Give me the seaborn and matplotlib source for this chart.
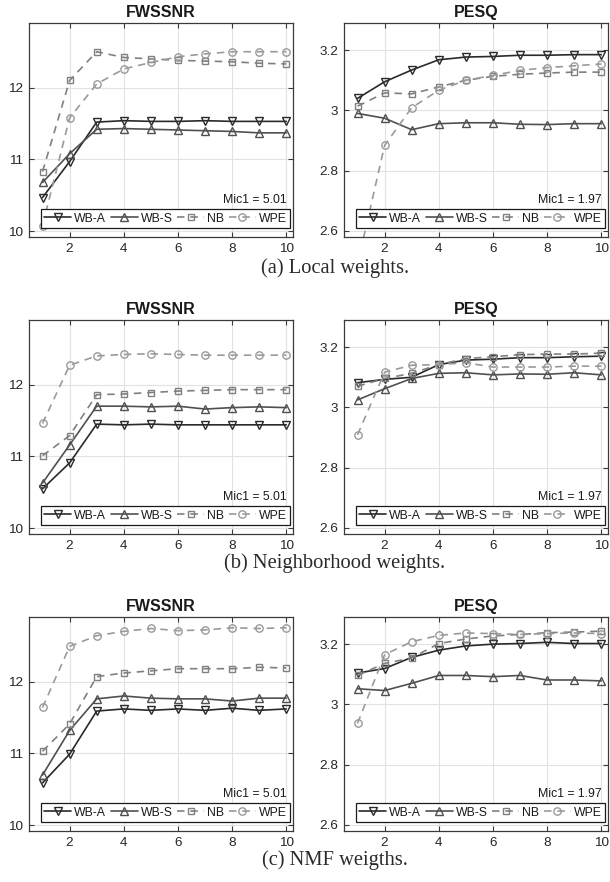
import numpy as np
import pandas as pd
import matplotlib
matplotlib.use("Agg")
import matplotlib.pyplot as plt
import seaborn as sns

# ---------------- data ----------------
x_vals = [1, 2, 3, 4, 5, 6, 7, 8, 9, 10]
methods = ["WB-A", "WB-S", "NB", "WPE"]
captions = ["(a) Local weights.", "(b) Neighborhood weights.", "(c) NMF weigths."]
metric_titles = ["FWSSNR", "PESQ"]
mic1_labels = ["Mic1 = 5.01", "Mic1 = 1.97"]
fw_ticks = [10, 11, 12]
fw_ticklabels = ["10", "11", "12"]
pq_ticks = [2.6, 2.8, 3.0, 3.2]
pq_ticklabels = ["2.6", "2.8", "3", "3.2"]
x_ticks = [2, 4, 6, 8, 10]

# (a) Local weights
fw_a_wba = [10.47, 10.97, 11.52, 11.54, 11.53, 11.53, 11.54, 11.53, 11.53, 11.53]
fw_a_wbs = [10.68, 11.08, 11.42, 11.43, 11.42, 11.41, 11.40, 11.39, 11.37, 11.37]
fw_a_nb = [10.83, 12.10, 12.50, 12.42, 12.40, 12.38, 12.37, 12.36, 12.34, 12.33]
fw_a_wpe = [10.08, 11.58, 12.05, 12.26, 12.35, 12.43, 12.47, 12.50, 12.50, 12.50]
pq_a_wba = [3.040, 3.095, 3.134, 3.168, 3.177, 3.179, 3.183, 3.183, 3.185, 3.185]
pq_a_wbs = [2.990, 2.974, 2.936, 2.956, 2.959, 2.959, 2.954, 2.953, 2.956, 2.956]
pq_a_nb = [3.014, 3.058, 3.055, 3.078, 3.100, 3.113, 3.120, 3.124, 3.127, 3.127]
pq_a_wpe = [2.490, 2.884, 3.009, 3.067, 3.100, 3.116, 3.133, 3.142, 3.148, 3.154]

# (b) Neighborhood weights
fw_b_wba = [10.55, 10.91, 11.45, 11.44, 11.45, 11.44, 11.44, 11.44, 11.44, 11.44]
fw_b_wbs = [10.63, 11.16, 11.70, 11.70, 11.69, 11.70, 11.66, 11.68, 11.69, 11.68]
fw_b_nb = [11.01, 11.29, 11.86, 11.87, 11.89, 11.91, 11.92, 11.93, 11.93, 11.93]
fw_b_wpe = [11.46, 12.27, 12.40, 12.42, 12.43, 12.42, 12.41, 12.41, 12.41, 12.41]
pq_b_wba = [3.082, 3.093, 3.100, 3.142, 3.157, 3.160, 3.165, 3.165, 3.168, 3.170]
pq_b_wbs = [3.025, 3.062, 3.096, 3.113, 3.115, 3.108, 3.111, 3.110, 3.115, 3.108]
pq_b_nb = [3.070, 3.096, 3.113, 3.142, 3.162, 3.168, 3.175, 3.177, 3.177, 3.180]
pq_b_wpe = [2.909, 3.117, 3.140, 3.142, 3.148, 3.134, 3.134, 3.134, 3.137, 3.137]

# (c) NMF weights
fw_c_wba = [10.59, 10.99, 11.59, 11.62, 11.60, 11.62, 11.60, 11.63, 11.60, 11.62]
fw_c_wbs = [10.70, 11.32, 11.76, 11.80, 11.77, 11.76, 11.76, 11.73, 11.77, 11.77]
fw_c_nb = [11.03, 11.41, 12.07, 12.12, 12.15, 12.18, 12.18, 12.18, 12.20, 12.19]
fw_c_wpe = [11.64, 12.49, 12.64, 12.70, 12.74, 12.71, 12.72, 12.75, 12.74, 12.75]
pq_c_wba = [3.104, 3.119, 3.156, 3.180, 3.194, 3.200, 3.202, 3.206, 3.202, 3.202]
pq_c_wbs = [3.052, 3.046, 3.070, 3.096, 3.096, 3.092, 3.096, 3.081, 3.081, 3.078]
pq_c_nb = [3.096, 3.136, 3.154, 3.202, 3.217, 3.227, 3.232, 3.238, 3.240, 3.243]
pq_c_wpe = [2.937, 3.165, 3.208, 3.229, 3.237, 3.235, 3.232, 3.235, 3.237, 3.235]

panels = [
    [(fw_a_wba, fw_a_wbs, fw_a_nb, fw_a_wpe), (pq_a_wba, pq_a_wbs, pq_a_nb, pq_a_wpe)],
    [(fw_b_wba, fw_b_wbs, fw_b_nb, fw_b_wpe), (pq_b_wba, pq_b_wbs, pq_b_nb, pq_b_wpe)],
    [(fw_c_wba, fw_c_wbs, fw_c_nb, fw_c_wpe), (pq_c_wba, pq_c_wbs, pq_c_nb, pq_c_wpe)],
]

# ---------------- style ----------------
sns.set_style("ticks")
plt.rcParams["font.family"] = ["Liberation Sans", "DejaVu Sans"]

styles = {
    "WB-A": dict(color="#2a2a2a", marker="v", ms=6.2, ls="-"),
    "WB-S": dict(color="#505050", marker="^", ms=6.2, ls="-"),
    "NB": dict(color="#808080", marker="s", ms=4.8, ls=(0, (4.5, 3.5))),
    "WPE": dict(color="#9a9a9a", marker="o", ms=5.3, ls=(0, (4.5, 3.5))),
}

W, H = 610, 882
fig = plt.figure(figsize=(W / 100, H / 100), dpi=100)
fig.patch.set_facecolor("white")

row_tops = [23, 320, 617]
ax_h = 214
col_lefts = [29, 344]
ax_w = 264
caption_y = [268, 563, 860]

for r in range(3):
    for c in range(2):
        left = col_lefts[c] / W
        bottom = 1 - (row_tops[r] + ax_h) / H
        ax = fig.add_axes([left, bottom, ax_w / W, ax_h / H])
        series = panels[r][c]
        for name, vals in zip(methods, series):
            st = styles[name]
            df = pd.DataFrame({"x": x_vals, "y": vals})
            sns.lineplot(data=df, x="x", y="y", ax=ax, label=name,
                         color=st["color"], linestyle=st["ls"], linewidth=1.2,
                         marker=st["marker"], markersize=st["ms"],
                         markerfacecolor="none", markeredgecolor=st["color"],
                         markeredgewidth=1.0, clip_on=True)
        ax.set_xlim(0.5, 10.25)
        if c == 0:
            ax.set_ylim(9.92, 12.9)
            ax.set_yticks(fw_ticks)
            ax.set_yticklabels(fw_ticklabels)
        else:
            ax.set_ylim(2.58, 3.29)
            ax.set_yticks(pq_ticks)
            ax.set_yticklabels(pq_ticklabels)
        ax.set_xticks(x_ticks)
        ax.set_xticklabels([str(t) for t in x_ticks])
        ax.set_xlabel("")
        ax.set_ylabel("")
        ax.grid(True, color="#e2e2e2", linewidth=0.8)
        ax.set_axisbelow(True)
        for sp in ax.spines.values():
            sp.set_visible(True)
            sp.set_color("#3a3a3a")
            sp.set_linewidth(0.9)
        ax.tick_params(direction="in", top=True, right=True, length=3.5,
                       width=0.8, color="#3a3a3a", labelsize=9.7,
                       labelcolor="#262626", pad=4)
        ax.set_title(metric_titles[c], fontsize=11.5, fontweight="bold",
                     color="#1a1a1a", pad=4)
        ax.text(0.975, 0.175, mic1_labels[c], transform=ax.transAxes,
                ha="right", va="center", fontsize=8.8, color="#1a1a1a")
        h, l = ax.get_legend_handles_labels()
        leg = ax.legend(h, l, ncol=4, loc="lower left",
                        bbox_to_anchor=(0.045, 0.042, 0.944, 0.08),
                        mode="expand", fontsize=8.8, frameon=True,
                        fancybox=False, framealpha=1, edgecolor="#1a1a1a",
                        handlelength=2.2, handletextpad=0.25,
                        columnspacing=0.4, borderpad=0.28, borderaxespad=0,
                        numpoints=1)
        leg.get_frame().set_linewidth(0.9)
        leg.set_zorder(10)
        for t in leg.get_texts():
            t.set_color("#1a1a1a")
    fig.text(335 / W, 1 - caption_y[r] / H, captions[r], ha="center",
             va="center", fontsize=14.8, color="#2a2a2a",
             family=["Liberation Serif", "DejaVu Serif"])

fig.savefig("out.png", dpi=100, facecolor="white")
